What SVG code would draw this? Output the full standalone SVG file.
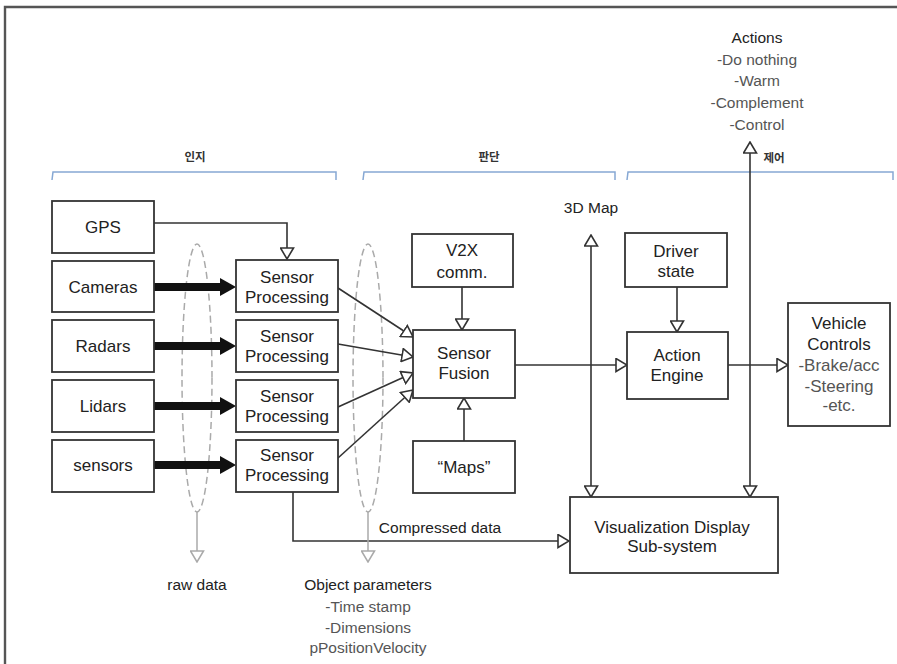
<svg xmlns="http://www.w3.org/2000/svg" width="897" height="664" viewBox="0 0 897 664">
<style>
.box{fill:#fff;stroke:#333;stroke-width:1.8}
.t{font-family:"Liberation Sans",Arial,sans-serif;font-size:17px;fill:#222;text-anchor:middle}
.s{font-family:"Liberation Sans",Arial,sans-serif;font-size:15.5px;fill:#222;text-anchor:middle}
.g{fill:#555}
.k{font-family:"Noto Sans CJK KR",sans-serif;font-size:11.5px;font-weight:bold;fill:#333;text-anchor:middle}
.ln{fill:none;stroke:#333;stroke-width:1.6}
.thick{fill:none;stroke:#111;stroke-width:8}
.gl{fill:none;stroke:#aaa;stroke-width:1.5}
.ell{fill:none;stroke:#aaa;stroke-width:1.5;stroke-dasharray:7 4}
.br{fill:none;stroke:#86a8d4;stroke-width:1.5}
</style>
<defs>
<marker id="ha" viewBox="0 0 13 15" refX="12" refY="7.5" markerWidth="13" markerHeight="15" markerUnits="userSpaceOnUse" orient="auto">
<path d="M1,1 L12,7.5 L1,14 Z" fill="#fff" stroke="#333" stroke-width="1.6"/>
</marker>
<marker id="hg" viewBox="0 0 13 15" refX="12" refY="7.5" markerWidth="13" markerHeight="15" markerUnits="userSpaceOnUse" orient="auto">
<path d="M1,1 L12,7.5 L1,14 Z" fill="#fff" stroke="#aaa" stroke-width="1.5"/>
</marker>
<marker id="fa" viewBox="0 0 16 18" refX="1" refY="9" markerWidth="16" markerHeight="18" markerUnits="userSpaceOnUse" orient="auto">
<path d="M0,0 L16,9 L0,18 Z" fill="#111"/>
</marker>
</defs>
<rect width="897" height="664" fill="#fff"/>
<!-- frame -->
<path d="M5,664 L5,7 L897,7" fill="none" stroke="#555" stroke-width="2.4"/>

<!-- section brackets -->
<g id="sections">
<path class="br" d="M52,180 L53,172 L336,172 L336,180"/>
<path class="br" d="M363,180 L364,172 L615,172 L615,180"/>
<path class="br" d="M627,180 L628,172 L893,172 L893,180"/>
<text class="k" x="195" y="161">인지</text>
<text class="k" x="489" y="161">판단</text>
<text class="k" x="774" y="162">제어</text>
</g>

<!-- ellipses -->
<g id="groups">
<ellipse class="ell" cx="197" cy="378" rx="15" ry="134"/>
<ellipse class="ell" cx="368" cy="378" rx="15" ry="134"/>
</g>

<!-- connectors -->
<g id="connectors">
<path class="ln" d="M154,223 L287,223 L287,259" marker-end="url(#ha)"/>
<line class="thick" x1="154" y1="287" x2="221" y2="287" marker-end="url(#fa)"/>
<line class="thick" x1="154" y1="346" x2="221" y2="346" marker-end="url(#fa)"/>
<line class="thick" x1="154" y1="406" x2="221" y2="406" marker-end="url(#fa)"/>
<line class="thick" x1="154" y1="465" x2="221" y2="465" marker-end="url(#fa)"/>
<line class="ln" x1="338" y1="288" x2="413" y2="337" marker-end="url(#ha)"/>
<line class="ln" x1="338" y1="344" x2="413" y2="357" marker-end="url(#ha)"/>
<line class="ln" x1="338" y1="407" x2="413" y2="373" marker-end="url(#ha)"/>
<line class="ln" x1="338" y1="458" x2="413" y2="390" marker-end="url(#ha)"/>
<line class="ln" x1="462" y1="287" x2="462" y2="330" marker-end="url(#ha)"/>
<line class="ln" x1="464" y1="441" x2="464" y2="398" marker-end="url(#ha)"/>
<line class="ln" x1="515" y1="365" x2="627" y2="365" marker-end="url(#ha)"/>
<line class="ln" x1="677" y1="287" x2="677" y2="332" marker-end="url(#ha)"/>
<line class="ln" x1="728" y1="365" x2="788" y2="365" marker-end="url(#ha)"/>
<path class="ln" d="M591,366 L591,235" marker-end="url(#ha)"/>
<path class="ln" d="M591,366 L591,497" marker-end="url(#ha)"/>
<path class="ln" d="M750,366 L750,142" marker-end="url(#ha)"/>
<path class="ln" d="M750,366 L750,497" marker-end="url(#ha)"/>
<path class="ln" d="M293,492 L293,541 L569,541" marker-end="url(#ha)"/>
<line class="gl" x1="197" y1="512" x2="197" y2="562" marker-end="url(#hg)"/>
<line class="gl" x1="368" y1="512" x2="368" y2="562" marker-end="url(#hg)"/>
</g>

<!-- nodes -->
<g id="gps"><rect class="box" x="52" y="201" width="102" height="52"/><text class="t" x="103" y="233">GPS</text></g>
<g id="cameras"><rect class="box" x="52" y="261" width="102" height="51"/><text class="t" x="103" y="293">Cameras</text></g>
<g id="radars"><rect class="box" x="52" y="320" width="102" height="52"/><text class="t" x="103" y="352">Radars</text></g>
<g id="lidars"><rect class="box" x="52" y="380" width="102" height="52"/><text class="t" x="103" y="412">Lidars</text></g>
<g id="sensors"><rect class="box" x="52" y="440" width="102" height="52"/><text class="t" x="103" y="471">sensors</text></g>

<g id="sp1"><rect class="box" x="236" y="260" width="102" height="52"/><text class="t" x="287" y="283">Sensor</text><text class="t" x="287" y="303">Processing</text></g>
<g id="sp2"><rect class="box" x="236" y="320" width="102" height="52"/><text class="t" x="287" y="342">Sensor</text><text class="t" x="287" y="362">Processing</text></g>
<g id="sp3"><rect class="box" x="236" y="380" width="102" height="52"/><text class="t" x="287" y="402">Sensor</text><text class="t" x="287" y="422">Processing</text></g>
<g id="sp4"><rect class="box" x="236" y="440" width="102" height="52"/><text class="t" x="287" y="461">Sensor</text><text class="t" x="287" y="481">Processing</text></g>

<g id="v2x"><rect class="box" x="412" y="234" width="101" height="53"/><text class="t" x="462" y="256">V2X</text><text class="t" x="462" y="278">comm.</text></g>
<g id="fusion"><rect class="box" x="413" y="330" width="102" height="68"/><text class="t" x="464" y="359">Sensor</text><text class="t" x="464" y="379">Fusion</text></g>
<g id="maps"><rect class="box" x="413" y="441" width="102" height="52"/><text class="t" x="464" y="473">“Maps”</text></g>

<g id="driver"><rect class="box" x="625" y="233" width="102" height="54"/><text class="t" x="676" y="257">Driver</text><text class="t" x="676" y="277">state</text></g>
<g id="action"><rect class="box" x="627" y="332" width="101" height="67"/><text class="t" x="677" y="361">Action</text><text class="t" x="677" y="381">Engine</text></g>
<g id="vehicle"><rect class="box" x="788" y="303" width="102" height="123"/>
<text class="t" x="839" y="329">Vehicle</text><text class="t" x="839" y="350">Controls</text>
<text class="t g" x="839" y="371">-Brake/acc</text><text class="t g" x="839" y="392">-Steering</text><text class="t g" x="839" y="411">-etc.</text></g>

<g id="visual"><rect class="box" x="570" y="497" width="208" height="76"/><text class="t" x="672" y="533">Visualization Display</text><text class="t" x="672" y="552">Sub-system</text></g>

<g id="labels">
<text class="s" x="591" y="213">3D Map</text>
<text class="s" x="440" y="533">Compressed data</text>
<text class="s" x="197" y="590">raw data</text>
<text class="s" x="368" y="590">Object parameters</text>
<text class="s g" x="368" y="612">-Time stamp</text>
<text class="s g" x="368" y="633">-Dimensions</text>
<text class="s g" x="368" y="653">pPositionVelocity</text>
<text class="s" x="757" y="43">Actions</text>
<text class="s g" x="757" y="65">-Do nothing</text>
<text class="s g" x="757" y="86">-Warm</text>
<text class="s g" x="757" y="108">-Complement</text>
<text class="s g" x="757" y="130">-Control</text>
</g>
</svg>
